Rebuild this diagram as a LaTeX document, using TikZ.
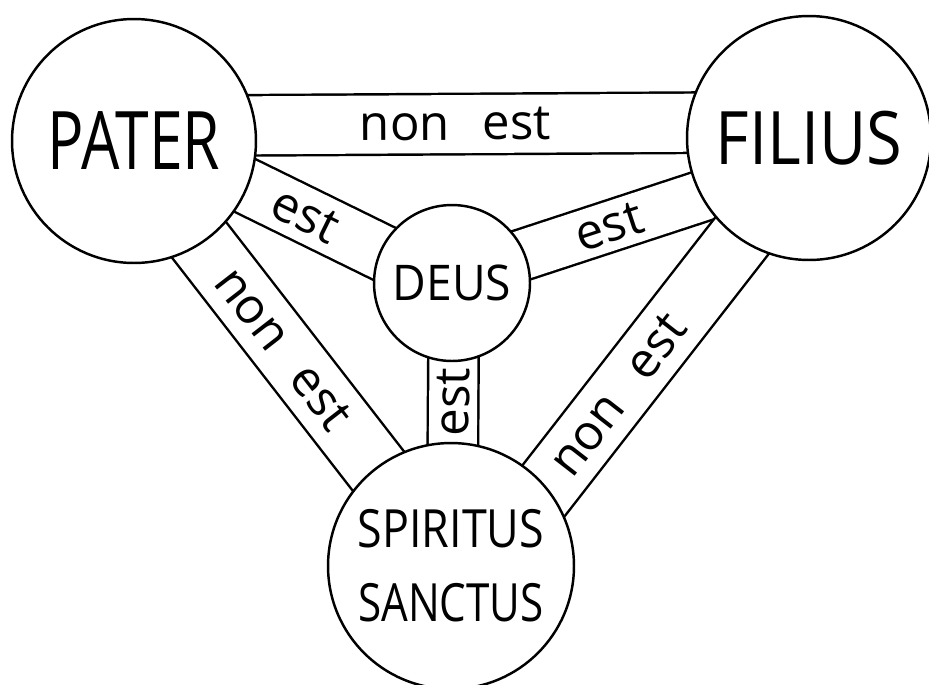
\documentclass[tikz,border=0pt]{standalone}
\usepackage{fontspec}
\setmainfont{Open Sans}
\usepackage{graphicx}
\usetikzlibrary{calc,backgrounds}
\tikzset{
  person/.style={circle, draw, fill=white, line width=1.4pt, inner sep=0pt, align=center},
  band/.style={double, line width=1.4pt},
  bandlabel/.style={font=\fontsize{28}{30}\selectfont, sloped, inner sep=0pt},
}
\newcommand{\narrow}[2]{\scalebox{#1}[1]{#2}}

\begin{document}
\begin{tikzpicture}[x=0.02cm, y=-0.02cm]
  \useasboundingbox (0,0) rectangle (929,684);
  % The four circles
  \node[person, minimum size=4.88cm, font=\fontsize{46}{50}\selectfont] (pater) at (134,141) {\narrow{0.75}{PATER}};
  \node[person, minimum size=4.88cm, font=\fontsize{42}{46}\selectfont] (filius) at (809,138) {\narrow{0.88}{FILIUS}};
  \node[person, minimum size=3.12cm, font=\fontsize{28}{30}\selectfont] (deus) at (452,283) {\narrow{0.94}{DEUS}};
  \node[person, minimum size=4.92cm, font=\fontsize{30}{42}\selectfont] (spiritus) at (451,566) {\narrow{0.85}{SPIRITUS}\\\narrow{0.8}{SANCTUS}};
  % Bands between the circles
  \begin{scope}[on background layer]
    \draw[band, double distance=1.16cm] ($(pater)+(0,-15)$) -- ($(filius)+(0,-16)$)
      node[bandlabel, pos=0.476] {non\hspace{0.4em} est};
    \draw[band, double distance=1.08cm] ($(pater)+(0,-10)$) -- ($(deus)+(0,4)$)
      node[bandlabel, pos=0.54] {est};
    \draw[band, double distance=0.98cm] ($(deus)+(0,-5)$) -- ($(filius)+(0,23)$)
      node[bandlabel, pos=0.44] {est};
    \draw[band, double distance=0.96cm] ($(spiritus)+(1,0)$) -- ($(deus)+(2,0)$)
      node[bandlabel, pos=0.58] {est};
    \draw[band, double distance=1.24cm] ($(pater)+(0,15)$) -- ($(spiritus)+(1,0)$)
      node[bandlabel, pos=0.47] {non\hspace{0.4em} est};
    \draw[band, double distance=1.24cm] ($(spiritus)+(34,0)$) -- ($(filius)+(9,0)$)
      node[bandlabel, pos=0.40] {non\hspace{0.4em} est};
  \end{scope}
\end{tikzpicture}
\end{document}
